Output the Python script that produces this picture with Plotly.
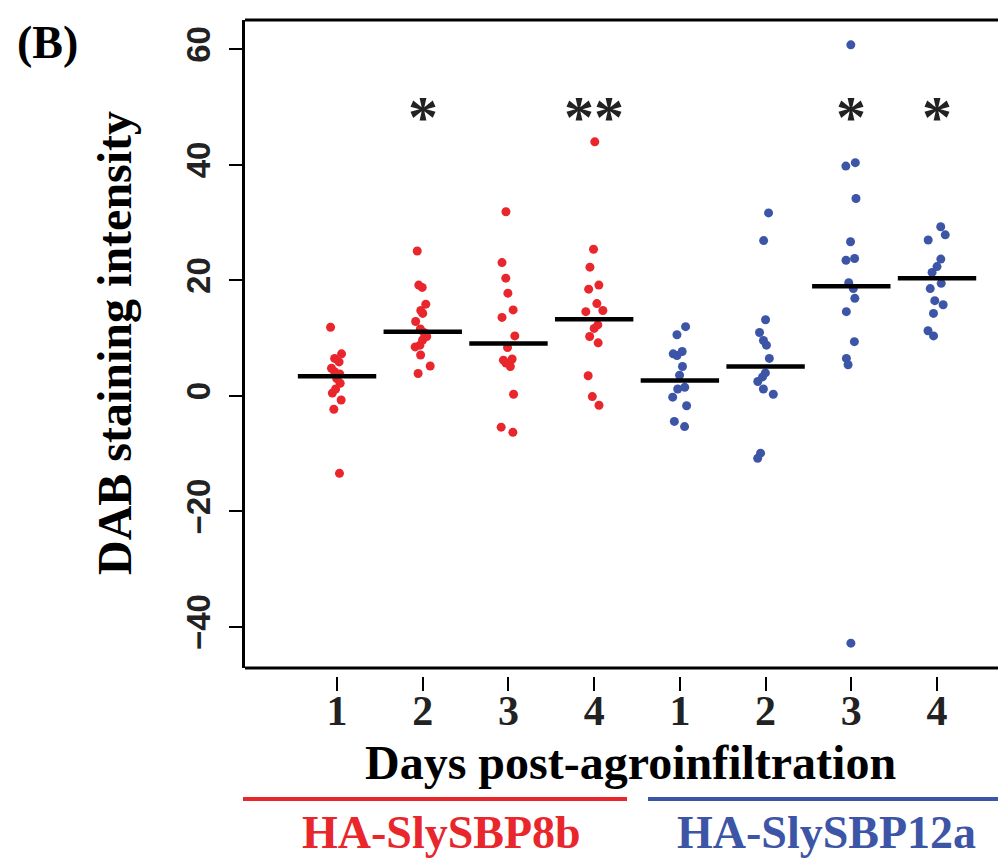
import plotly.graph_objects as go

# ---------------- data ----------------
day_labels = ["1", "2", "3", "4", "1", "2", "3", "4"]
group_names = ["HA-SlySBP8b", "HA-SlySBP12a"]

sbp8b_day1 = [11.9, 7.3, 6.5, 5.9, 4.8, 4.2, 3.8, 3.0, 2.2, 1.2, 0.5, -0.7, -2.3, -13.4]
sbp8b_day2 = [25.1, 19.2, 18.8, 15.9, 14.8, 14.3, 12.9, 11.6, 11.0, 10.3, 9.7, 8.8, 8.5, 7.1, 5.2, 3.9]
sbp8b_day3 = [31.9, 23.1, 20.4, 17.8, 14.9, 13.6, 10.4, 8.4, 6.4, 6.2, 5.7, 5.1, 0.3, -5.4, -6.3]
sbp8b_day4 = [44.0, 25.4, 22.3, 19.2, 18.5, 16.0, 14.8, 14.6, 12.3, 11.7, 10.3, 9.2, 3.5, -0.1, -1.6]

sbp12a_day1 = [12.0, 10.6, 7.7, 7.3, 7.0, 5.1, 3.6, 1.5, 1.2, -0.2, -1.7, -4.4, -5.3]
sbp12a_day2 = [31.7, 26.9, 13.2, 11.0, 9.6, 8.8, 6.5, 4.0, 3.3, 2.5, 1.2, 0.3, -9.9, -10.8]
sbp12a_day3 = [60.8, 40.4, 39.8, 34.2, 26.7, 23.8, 23.5, 19.6, 18.6, 16.9, 14.6, 9.4, 6.5, 5.4, -42.8]
sbp12a_day4 = [29.3, 27.9, 27.0, 23.7, 22.4, 21.4, 19.5, 18.6, 16.5, 15.8, 14.3, 11.3, 10.4]

median_lines = [3.4, 11.1, 9.1, 13.3, 2.7, 5.1, 19.0, 20.4]
significance = ["", "*", "", "**", "", "", "*", "*"]

RED = "#E8262C"
BLUE = "#3D55A6"

# ---------------- geometry helpers (page pixels) ----------------
OFF = 8                      # default page body margin
W, H = 1006 - OFF, 860 - OFF
ML, MR, MT = 245 - OFF, 0, 20 - OFF
PAPER_BOTTOM = 676 - OFF
MB = H - PAPER_BOTTOM
PW, PH = W - ML - MR, H - MT - MB


def paper(xp, yp):
    """page pixel -> paper fraction"""
    return (xp - OFF - ML) / PW, (PAPER_BOTTOM - (yp - OFF)) / PH


groups = [sbp8b_day1, sbp8b_day2, sbp8b_day3, sbp8b_day4,
          sbp12a_day1, sbp12a_day2, sbp12a_day3, sbp12a_day4]
positions = list(range(1, len(groups) + 1))

fig = go.Figure()

for gi, color in ((range(0, 4), RED), (range(4, 8), BLUE)):
    xs, ys = [], []
    for i in gi:
        xs += [positions[i]] * len(groups[i])
        ys += groups[i]
    fig.add_trace(go.Box(
        x=xs, y=ys, boxpoints="all", jitter=0.9, pointpos=0, width=0.24,
        marker=dict(color=color, size=9),
        line=dict(width=0, color="rgba(0,0,0,0)"),
        fillcolor="rgba(0,0,0,0)", showlegend=False, hoverinfo="y",
    ))

fig.add_trace(go.Scatter(
    x=positions, y=median_lines, mode="markers",
    marker=dict(symbol="line-ew", size=56, color="black",
                line=dict(width=4.5, color="black")),
    showlegend=False, hoverinfo="y",
))

serif = "Liberation Serif, Times New Roman, serif"
sans = "Liberation Sans, Arial, sans-serif"

ydom0 = 8 / PH   # gap between frame bottom (668) and x-axis ticks (676)

fig.update_layout(
    width=W, height=H,
    margin=dict(l=ML, r=MR, t=MT, b=MB, pad=0),
    paper_bgcolor="white", plot_bgcolor="white",
    boxmode="overlay",
    xaxis=dict(
        range=[-0.074, 8.805], anchor="free", position=0,
        tickmode="array", tickvals=positions, ticktext=day_labels,
        ticks="outside", ticklen=14, tickwidth=2, tickcolor="black",
        showline=False, showgrid=False, zeroline=False,
        ticklabelstandoff=-16,
        tickfont=dict(family=serif, size=42, color="#222", weight="bold"),
    ),
    yaxis=dict(
        domain=[ydom0, 1], range=[-47.1, 65.1],
        tickmode="array", tickvals=[-40, -20, 0, 20, 40, 60],
        ticks="outside", ticklen=13, tickwidth=2, tickcolor="black",
        showline=True, linewidth=3, linecolor="black",
        showgrid=False, zeroline=False, tickangle=-90,
        ticklabelstandoff=6,
        tickfont=dict(family=sans, size=33, color="#222", weight="bold"),
    ),
)

# frame (top and bottom edges)
for yv in (0, 1):
    fig.add_shape(type="line", xref="paper", yref="y domain",
                  x0=0, x1=1, y0=yv, y1=yv,
                  line=dict(color="black", width=3))

# significance stars
for xpos, s in zip(positions, significance):
    if s:
        fig.add_annotation(x=xpos, y=49, xref="x", yref="y", text=s,
                           showarrow=False, yshift=-4,
                           font=dict(family=serif, size=60, color="#222", weight="bold"))

annots = [
    ("(B)", 47, 42, dict(family=serif, size=46, color="black", weight="bold"), 0),
    ("DAB staining intensity", 114, 343, dict(family=serif, size=48, color="black", weight="bold"), -90),
    ("Days post-agroinfiltration", 630, 762, dict(family=serif, size=48, color="black", weight="bold"), 0),
    (group_names[0], 441, 832, dict(family=serif, size=46, color=RED, weight="bold"), 0),
    (group_names[1], 826, 832, dict(family=serif, size=46, color=BLUE, weight="bold"), 0),
]
for text, xp, yp, font, ang in annots:
    px_, py_ = paper(xp, yp)
    fig.add_annotation(x=px_, y=py_, xref="paper", yref="paper", text=text,
                       showarrow=False, xanchor="center", yanchor="middle",
                       textangle=ang, font=font)

# group underline bars
for x0p, x1p, col in ((243, 627, RED), (648, 1006, BLUE)):
    a, yb = paper(x0p, 799)
    b, _ = paper(x1p, 799)
    fig.add_shape(type="line", xref="paper", yref="paper", x0=a, x1=b, y0=yb, y1=yb,
                  line=dict(color=col, width=4))

fig.write_html("out.html")
